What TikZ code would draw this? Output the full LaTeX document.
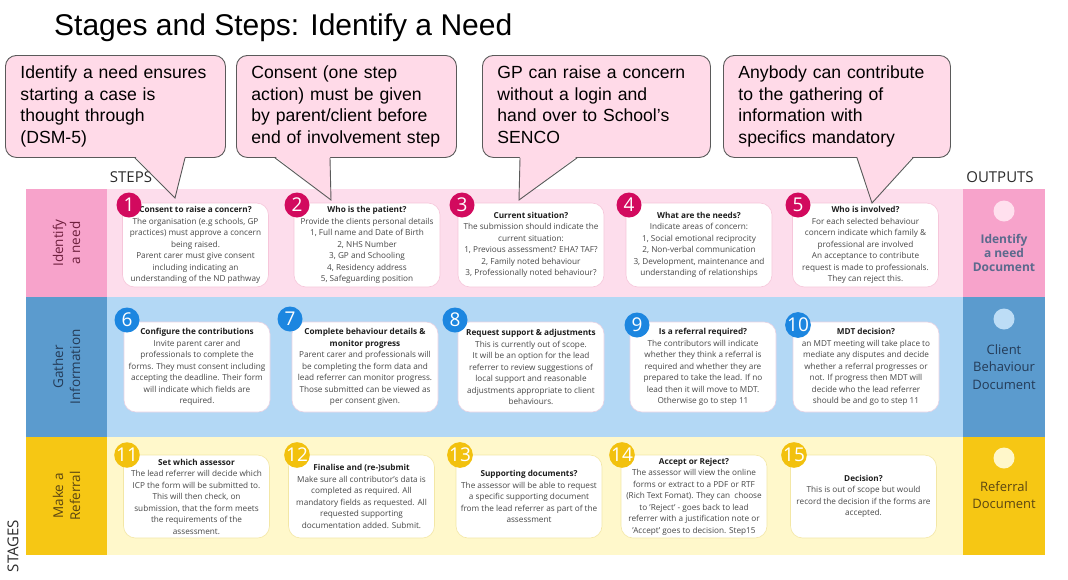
\documentclass[tikz,border=0pt]{standalone}
\usepackage{fontspec}
\setmainfont{Open Sans}
\newfontfamily\calloutfont{Liberation Sans}
\usetikzlibrary{calc}
\definecolor{PinkBand}{HTML}{FDDDEC}
\definecolor{PinkStage}{HTML}{F7A3CB}
\definecolor{BlueBand}{HTML}{B3D8F5}
\definecolor{BlueStage}{HTML}{5B9BCE}
\definecolor{YellowBand}{HTML}{FFF8CB}
\definecolor{YellowStage}{HTML}{F6C714}
\definecolor{StepPink}{HTML}{D20A5E}
\definecolor{StepBlue}{HTML}{1C86E0}
\definecolor{StepYellow}{HTML}{F2C10E}
\definecolor{BubbleFill}{HTML}{FFDAE8}
\definecolor{BubbleLine}{HTML}{5A5A5A}
\definecolor{CardInk}{HTML}{474747}
\definecolor{CardHead}{HTML}{1E1E1E}
\definecolor{CardEdgePink}{HTML}{F6C6DA}
\definecolor{CardEdgeBlue}{HTML}{E9D3E3}
\definecolor{CardEdgeYellow}{HTML}{F3E7A6}
\definecolor{HeadInk}{HTML}{2B2B2B}
\definecolor{PinkInk}{HTML}{6E1F3D}
\definecolor{BlueInk}{HTML}{243B57}
\definecolor{YellowInk}{HTML}{5B4612}
\definecolor{OutPinkInk}{HTML}{5B6A8D}
\definecolor{OutPinkDot}{HTML}{FFE0EE}
\definecolor{OutBlueDot}{HTML}{BDDDF6}
\definecolor{OutYellowDot}{HTML}{FFF7CA}
\tikzset{
  titletext/.style={font=\calloutfont\fontsize{30}{34}\selectfont,text=black,inner sep=0pt},
  heading/.style={font=\fontsize{15}{18}\selectfont,text=HeadInk,inner sep=0pt},
  bubble/.style={draw=BubbleLine,line width=0.9pt,fill=BubbleFill,rounded corners=11pt,
                 anchor=north west,align=left,inner xsep=15pt,minimum height=102pt,
                 font=\calloutfont\fontsize{17.6}{21.5}\selectfont,text=black},
  tailfill/.style={fill=BubbleFill},
  tailline/.style={draw=BubbleLine,line width=0.9pt},
  stagecell/.style={rotate=90,align=center,inner sep=0pt,minimum height=81pt,
                    font=\fontsize{13.5}{17}\selectfont},
  card/.style={draw=CardEdgePink,line width=0.6pt,fill=white,rounded corners=12pt,
               minimum width=146pt,align=center,inner sep=1pt,text=CardInk,
               font=\fontsize{8.2}{11.5}\selectfont},
  cardblue/.style={card,draw=CardEdgeBlue},
  cardyellow/.style={card,draw=CardEdgeYellow},
  num/.style={circle,fill=StepPink,text=white,minimum size=25pt,inner sep=0pt,
              font=\fontsize{19}{19}\selectfont},
  numblue/.style={num,fill=StepBlue},
  numyellow/.style={num,fill=StepYellow},
  dot/.style={circle,minimum size=21pt,inner sep=0pt},
  outtext/.style={align=center,inner sep=0pt,font=\fontsize{13}{17.5}\selectfont},
}
\newcommand{\hd}[1]{{\color{CardHead}\bfseries #1}}
\newcommand{\calloutlines}[1]{\begin{tabular}{@{}l@{}}#1\end{tabular}}

\begin{document}
\begin{tikzpicture}[x=1pt,y=-1pt]
  \useasboundingbox[fill=white] (0,0) rectangle (1068,579);

  \node[titletext,anchor=west] (title) at (54,28) {Stages and Steps: Identify a Need};

  % bands
  \fill[PinkBand] (107,189) rectangle (963,297);
  \fill[BlueBand] (107,297) rectangle (963,437);
  \fill[YellowBand] (107,437) rectangle (963,555);

  \node[stagecell,fill=PinkStage,text=PinkInk,minimum width=108pt] (st1) at (66.5,243) {Identify\\a need};
  \node[stagecell,fill=BlueStage,text=BlueInk,minimum width=140pt] (st2) at (66.5,367) {Gather\\Information};
  \node[stagecell,fill=YellowStage,text=YellowInk,minimum width=118pt] (st3) at (66.5,496) {Make a\\Referral};

  \fill[PinkStage] (963,189) rectangle (1045,297);
  \fill[BlueStage] (963,297) rectangle (1045,437);
  \fill[YellowStage] (963,437) rectangle (1045,555);

  \node[heading] (steps) at (131,177) {STEPS};
  \node[heading] (outputs) at (1000,177) {OUTPUTS};
  \node[heading,rotate=90] (stages) at (13,546) {STAGES};

  % outputs
  \node[dot,fill=OutPinkDot] (o1) at (1004,211) {};
  \node[outtext,text=OutPinkInk,font=\bfseries\fontsize{12}{14}\selectfont] (ot1) at (1004,253) {Identify\\a need\\Document};
  \node[dot,fill=OutBlueDot] (o2) at (1004,319) {};
  \node[outtext,text=BlueInk] (ot2) at (1004,367) {Client\\Behaviour\\Document};
  \node[dot,fill=OutYellowDot] (o3) at (1004,458) {};
  \node[outtext,text=YellowInk] (ot3) at (1004,495) {Referral\\Document};

  % row 1
  \node[card,minimum height=84pt] (s1) at (195.5,245)
    {\hd{Consent to raise a concern?}\\The organisation (e.g schools, GP\\practices) must approve a concern\\being raised.\\Parent carer must give consent\\including indicating an\\understanding of the ND pathway};
  \node[card,minimum height=84pt] (s2) at (367,245)
    {\hd{Who is the patient?}\\Provide the clients personal details\\1, Full name and Date of Birth\\2, NHS Number\\3, GP and Schooling\\4, Residency address\\5, Safeguarding position};
  \node[card,minimum height=84pt] (s3) at (531,245)
    {\hd{Current situation?}\\The submission should indicate the\\current situation:\\1, Previous assessment? EHA? TAF?\\2, Family noted behaviour\\3, Professionally noted behaviour?};
  \node[card,minimum height=84pt] (s4) at (699,245)
    {\hd{What are the needs?}\\Indicate areas of concern:\\1, Social emotional reciprocity\\2, Non-verbal communication\\3, Development, maintenance and\\understanding of relationships};
  \node[card,minimum height=84pt] (s5) at (865.5,245)
    {\hd{Who is involved?}\\For each selected behaviour\\concern indicate which family \&\\professional are involved\\An acceptance to contribute\\request is made to professionals.\\They can reject this.};
  \node[num] (n1) at (129,205) {1};
  \node[num] (n2) at (297,205) {2};
  \node[num] (n3) at (462,205) {3};
  \node[num] (n4) at (629,205) {4};
  \node[num] (n5) at (798,205) {5};

  % row 2
  \node[cardblue,minimum height=90pt] (s6) at (197,367)
    {\hd{Configure the contributions}\\Invite parent carer and\\professionals to complete the\\forms. They must consent including\\accepting the deadline. Their form\\will indicate which fields are\\required.};
  \node[cardblue,minimum height=90pt] (s7) at (365,367)
    {\hd{Complete behaviour details \&}\\\hd{monitor progress}\\Parent carer and professionals will\\be completing the form data and\\lead referrer can monitor progress.\\Those submitted can be viewed as\\per consent given.};
  \node[cardblue,minimum height=90pt] (s8) at (531,367)
    {\hd{Request support \& adjustments}\\This is currently out of scope.\\It will be an option for the lead\\referrer to review suggestions of\\local support and reasonable\\adjustments appropriate to client\\behaviours.};
  \node[cardblue,minimum height=90pt] (s9) at (703,367)
    {\hd{Is a referral required?}\\The contributors will indicate\\whether they think a referral is\\required and whether they are\\prepared to take the lead. If no\\lead then it will move to MDT.\\Otherwise go to step 11};
  \node[cardblue,minimum height=90pt] (s10) at (866,367)
    {\hd{MDT decision?}\\an MDT meeting will take place to\\mediate any disputes and decide\\whether a referral progresses or\\not. If progress then MDT will\\decide who the lead referrer\\should be and go to step 11};
  \node[numblue] (n6) at (127,320) {6};
  \node[numblue] (n7) at (290,319) {7};
  \node[numblue] (n8) at (455,320) {8};
  \node[numblue] (n9) at (637,325) {9};
  \node[numblue] (n10) at (798,325) {10};

  % row 3
  \node[cardyellow,minimum height=83pt] (s11) at (196.5,496.5)
    {\hd{Set which assessor}\\The lead referrer will decide which\\ICP the form will be submitted to.\\This will then check, on\\submission, that the form meets\\the requirements of the\\assessment.};
  \node[cardyellow,minimum height=83pt] (s12) at (361.5,496.5)
    {\hd{Finalise and (re-)submit}\\Make sure all contributor's data is\\completed as required. All\\mandatory fields as requested. All\\requested supporting\\documentation added. Submit.};
  \node[cardyellow,minimum height=83pt] (s13) at (529,496.5)
    {\hd{Supporting documents?}\\The assessor will be able to request\\a specific supporting document\\from the lead referrer as part of the\\assessment};
  \node[cardyellow,minimum height=83pt] (s14) at (694,496.5)
    {\hd{Accept or Reject?}\\The assessor will view the online\\forms or extract to a PDF or RTF\\(Rich Text Fomat). They can\ \ choose\\to 'Reject' - goes back to lead\\referrer with a justification note or\\'Accept' goes to decision. Step15};
  \node[cardyellow,minimum height=83pt] (s15) at (863.5,496.5)
    {\hd{Decision?}\\This is out of scope but would\\record the decision if the forms are\\accepted.};
  \node[numyellow] (n11) at (127,455) {11};
  \node[numyellow] (n12) at (297,455) {12};
  \node[numyellow] (n13) at (460,455) {13};
  \node[numyellow] (n14) at (622,455) {14};
  \node[numyellow] (n15) at (794,455) {15};

  % callouts
  \node[bubble,text width=190pt] (b1) at (5,55)
    {\calloutlines{Identify a need ensures\\starting a case is\\thought through\\(DSM-5)}};
  \node[bubble,text width=190pt] (b2) at (236,55)
    {\calloutlines{Consent (one step\\action) must be given\\by parent/client before\\end of involvement step}};
  \node[bubble,text width=198pt] (b3) at (482,55)
    {\calloutlines{GP can raise a concern\\without a login and\\hand over to School’s\\SENCO}};
  \node[bubble,text width=197pt] (b4) at (723,55)
    {\calloutlines{Anybody can contribute\\to the gathering of\\information with\\specifics mandatory}};

  \coordinate (tip1) at (175,198);
  \coordinate (tip2) at (331,200);
  \coordinate (tip3) at (519,200);
  \coordinate (tip4) at (872,203);
  \fill[tailfill] ($(b1.south west)+(130,-1.5)$) -- (tip1) -- ($(b1.south west)+(180,-1.5)$) -- cycle;
  \draw[tailline] ($(b1.south west)+(130,0)$) -- (tip1) -- ($(b1.south west)+(180,0)$);
  \fill[tailfill] ($(b2.south west)+(39,-1.5)$) -- (tip2) -- ($(b2.south west)+(94,-1.5)$) -- cycle;
  \draw[tailline] ($(b2.south west)+(39,0)$) -- (tip2) -- ($(b2.south west)+(94,0)$);
  \fill[tailfill] ($(b3.south west)+(38,-1.5)$) -- (tip3) -- ($(b3.south west)+(95,-1.5)$) -- cycle;
  \draw[tailline] ($(b3.south west)+(38,0)$) -- (tip3) -- ($(b3.south west)+(95,0)$);
  \fill[tailfill] ($(b4.south west)+(134,-1.5)$) -- (tip4) -- ($(b4.south west)+(190,-1.5)$) -- cycle;
  \draw[tailline] ($(b4.south west)+(134,0)$) -- (tip4) -- ($(b4.south west)+(190,0)$);
\end{tikzpicture}
\end{document}
